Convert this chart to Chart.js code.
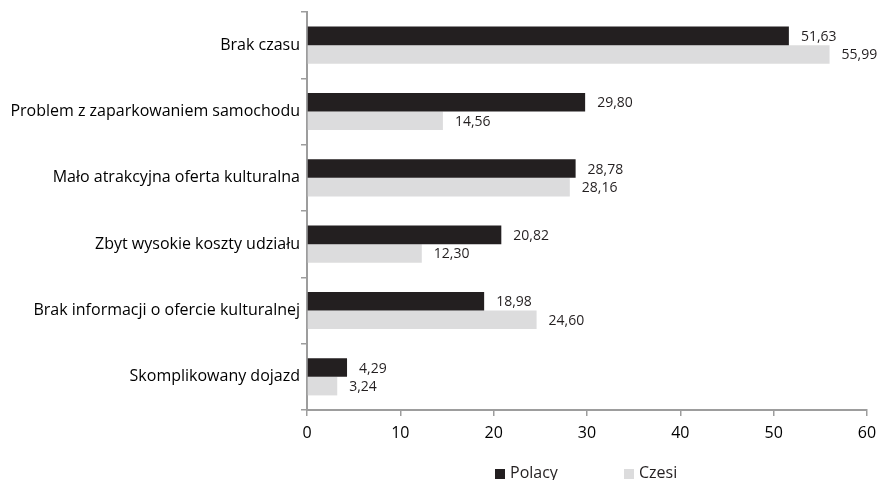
<!DOCTYPE html>
<html>
<head>
<meta charset="utf-8">
<script src="https://cdn.jsdelivr.net/npm/chart.js@4"></script>
<style>
  html, body { margin: 0; padding: 0; background: #fff; }
  #wrap { position: relative; width: 889px; height: 480px; }
  #legend { position: absolute; top: 461px; left: 0; width: 889px; font: 16px "Open Sans", sans-serif; line-height: 22px; color: #231f20; }
  #legend span { position: absolute; white-space: nowrap; }
  #legend i { display: inline-block; width: 10px; height: 10px; margin-right: 5px; vertical-align: -1px; }
</style>
</head>
<body>
<div id="wrap">
  <canvas id="chart" width="889" height="480"></canvas>
  <div id="legend">
    <span style="left:495px"><i style="background:#231f20"></i>Polacy</span>
    <span style="left:624px"><i style="background:#dcdcdd"></i>Czesi</span>
  </div>
</div>
<script>
const categories = [
    "Brak czasu",
    "Problem z zaparkowaniem samochodu",
    "Mało atrakcyjna oferta kulturalna",
    "Zbyt wysokie koszty udziału",
    "Brak informacji o ofercie kulturalnej",
    "Skomplikowany dojazd"
];
const polacy = [51.63, 29.80, 28.78, 20.82, 18.98, 4.29];
const czesi = [55.99, 14.56, 28.16, 12.30, 24.60, 3.24];
const xTicks = [0, 10, 20, 30, 40, 50, 60];

const fontFamily = "'Open Sans', sans-serif";
const axisGray = "#9d9d9d";

// value labels next to bar ends, comma decimals
const valueLabels = {
    id: "valueLabels",
    afterDatasetsDraw(chart) {
        const ctx = chart.ctx;
        ctx.save();
        ctx.font = "14px " + fontFamily;
        ctx.fillStyle = "#231f20";
        ctx.textBaseline = "middle";
        ctx.textAlign = "left";
        chart.data.datasets.forEach((ds, i) => {
            chart.getDatasetMeta(i).data.forEach((bar, j) => {
                const txt = ds.data[j].toFixed(2).replace(".", ",");
                ctx.fillText(txt, bar.x + 12, bar.y + 1);
            });
        });
        ctx.restore();
    }
};

const ctx = document.getElementById("chart").getContext("2d");

new Chart(ctx, {
    type: "bar",
    data: {
        labels: categories,
        datasets: [
            { label: "Polacy", data: polacy, backgroundColor: "#231f20" },
            { label: "Czesi", data: czesi, backgroundColor: "#dcdcdd" }
        ]
    },
    options: {
        indexAxis: "y",
        responsive: false,
        animation: false,
        layout: { padding: { top: 12, right: 22, left: 0, bottom: 0 } },
        datasets: {
            bar: { categoryPercentage: 0.56, barPercentage: 1.0 }
        },
        plugins: {
            legend: { display: false },
            tooltip: { enabled: false }
        },
        scales: {
            x: {
                min: 0,
                max: 60,
                afterBuildTicks: (scale) => {
                    scale.ticks = xTicks.map(v => ({ value: v }));
                },
                afterFit: (scale) => { scale.height = 70; },
                grid: {
                    drawOnChartArea: false,
                    drawTicks: true,
                    tickLength: 6,
                    lineWidth: 1.5,
                    color: axisGray
                },
                border: { color: axisGray, width: 2 },
                ticks: {
                    color: "#000",
                    font: { family: fontFamily, size: 16 },
                    padding: 8
                }
            },
            y: {
                afterFit: (scale) => { scale.width = 307; },
                grid: {
                    drawOnChartArea: false,
                    drawTicks: true,
                    tickLength: 6,
                    lineWidth: 1.5,
                    color: axisGray
                },
                border: { color: axisGray, width: 2 },
                ticks: {
                    color: "#000",
                    font: { family: fontFamily, size: 16 },
                    padding: 1
                }
            }
        }
    },
    plugins: [valueLabels]
});
</script>
</body>
</html>
